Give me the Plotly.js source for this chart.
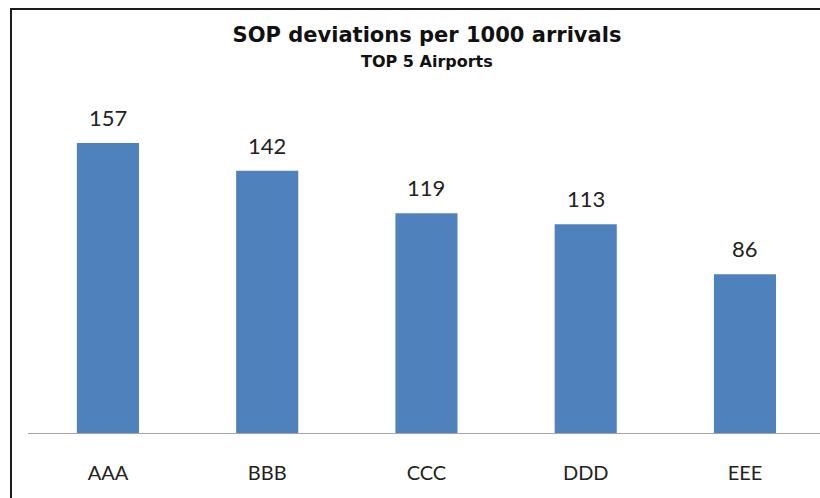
<!DOCTYPE html>
<html>
<head>
<meta charset="utf-8">
<script src="https://cdn.plot.ly/plotly-3.0.1.min.js"></script>
<style>
  html, body { margin: 0; padding: 0; background: #fff; }
  #chart { width: 820px; height: 498px; }
  #frame { position: absolute; left: 10px; top: 8px; width: 900px; height: 600px;
           border-left: 2px solid #1c1c1c; border-top: 2px solid #1c1c1c; pointer-events: none; }
</style>
</head>
<body>
<div id="chart"></div>
<div id="frame"></div>
<script>
const categories = ["AAA", "BBB", "CCC", "DDD", "EEE"];
const values = [157, 142, 119, 113, 86];
const chartTitle = "SOP deviations per 1000 arrivals";
const chartSubtitle = "TOP 5 Airports";

const font = "Lato, 'Open Sans', sans-serif";
const titleFont = "'DejaVu Sans', sans-serif";

const trace = {
  type: "bar",
  x: categories,
  y: values,
  marker: { color: "#4F81BD" },
  hoverinfo: "none"
};

const labelAnnotations = categories.map((c, i) => ({
  x: c, y: values[i], xref: "x", yref: "y",
  text: String(values[i]), showarrow: false,
  yanchor: "bottom", yshift: 10,
  font: { family: font, size: 22, color: "#222" }
}));

const layout = {
  width: 820, height: 498,
  margin: { l: 28, r: 0, t: 82, b: 65 },
  paper_bgcolor: "#fff", plot_bgcolor: "#fff",
  bargap: 0.61,
  showlegend: false,
  title: {
    text: "<b>" + chartTitle + "</b>",
    x: 427 / 820, xanchor: "center", xref: "container",
    y: 1 - 35 / 498, yanchor: "middle", yref: "container",
    font: { family: titleFont, size: 21, color: "#111" }
  },
  xaxis: {
    type: "category",
    range: [-0.502, 4.471],
    showline: true, linecolor: "#a6a6a6", linewidth: 1,
    ticks: "outside", ticklen: 22, tickcolor: "rgba(0,0,0,0)",
    tickfont: { family: font, size: 20, color: "#222" },
    showgrid: false, zeroline: false, fixedrange: true
  },
  yaxis: {
    range: [0, 190],
    visible: false, showgrid: false, zeroline: false, fixedrange: true
  },
  annotations: [{
    xref: "paper", yref: "paper",
    x: (427 - 28) / 792, y: (433 - 61) / 351,
    xanchor: "center", yanchor: "middle",
    text: "<b>" + chartSubtitle + "</b>", showarrow: false,
    font: { family: titleFont, size: 16, color: "#111" }
  }].concat(labelAnnotations)
};

Plotly.newPlot("chart", [trace], layout, { displayModeBar: false, staticPlot: true });
</script>
</body>
</html>
